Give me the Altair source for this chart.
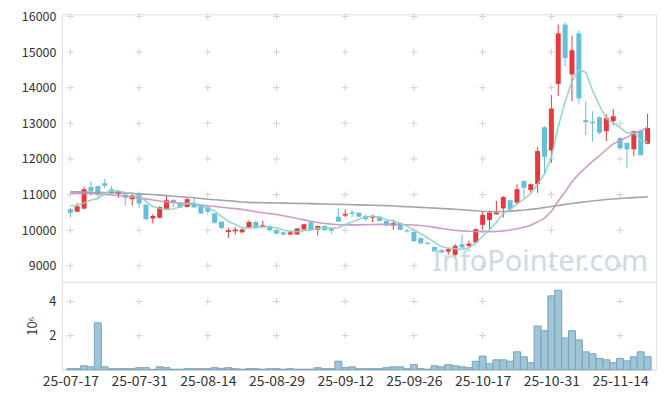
import json
import altair as alt
import pandas as pd

# ---------------- data ----------------
dates = [
    "25-07-17", "25-07-18", "25-07-21", "25-07-22", "25-07-23", "25-07-24", "25-07-25", "25-07-28", "25-07-29", "25-07-30",
    "25-07-31", "25-08-01", "25-08-04", "25-08-05", "25-08-06", "25-08-07", "25-08-08", "25-08-11", "25-08-12", "25-08-13",
    "25-08-14", "25-08-18", "25-08-19", "25-08-20", "25-08-21", "25-08-22", "25-08-25", "25-08-26", "25-08-27", "25-08-28",
    "25-08-29", "25-09-01", "25-09-02", "25-09-03", "25-09-04", "25-09-05", "25-09-08", "25-09-09", "25-09-10", "25-09-11",
    "25-09-12", "25-09-15", "25-09-16", "25-09-17", "25-09-18", "25-09-19", "25-09-22", "25-09-23", "25-09-24", "25-09-25",
    "25-09-26", "25-09-29", "25-09-30", "25-10-01", "25-10-02", "25-10-10", "25-10-13", "25-10-14", "25-10-15", "25-10-16",
    "25-10-17", "25-10-20", "25-10-21", "25-10-22", "25-10-23", "25-10-24", "25-10-27", "25-10-28", "25-10-29", "25-10-30",
    "25-10-31", "25-11-03", "25-11-04", "25-11-05", "25-11-06", "25-11-07", "25-11-10", "25-11-11", "25-11-12", "25-11-13",
    "25-11-14", "25-11-17", "25-11-18", "25-11-19", "25-11-20",
]
opens = [
    10590, 10520, 10605, 11210, 11240, 11320, 11150, 11010, 11000, 10870,
    11000, 10720, 10330, 10350, 10580, 10850, 10750, 10650, 10770, 10700,
    10650, 10470, 10240, 9950, 9970, 9940, 10070, 10230, 10090, 10110,
    10000, 9940, 9880, 9880, 10020, 10220, 10020, 10120, 10060, 10380,
    10410, 10500, 10490, 10400, 10350, 10380, 10260, 10130, 10200, 10000,
    9945, 9780, 9650, 9530, 9450, 9400, 9310, 9607, 9560, 9655,
    10150, 10290, 10445, 10615, 10840, 10775, 11380, 11130, 11290, 12890,
    12240, 14105, 15770, 14370, 15525, 13090, 13040, 13170, 12780, 13060,
    12590, 12450, 12270, 12800, 12425,
]
highs = [
    10630, 10770, 11210, 11380, 11250, 11440, 11240, 11120, 11010, 11010,
    11050, 10730, 10450, 10680, 10990, 10870, 10770, 10910, 10900, 10720,
    10680, 10480, 10250, 10070, 10090, 10070, 10280, 10280, 10260, 10150,
    10010, 9960, 9990, 10060, 10180, 10230, 10130, 10130, 10070, 10610,
    10590, 10580, 10500, 10450, 10440, 10390, 10270, 10300, 10210, 10030,
    9950, 9790, 9660, 9540, 9460, 9495, 9610, 9880, 9700, 10050,
    10540, 10560, 10820, 10960, 10850, 11290, 11400, 11310, 12330, 12920,
    13790, 15770, 15830, 15460, 15600, 13620, 13340, 13200, 13250, 13400,
    12600, 12460, 12790, 12810, 13265,
]
lows = [
    10350, 10500, 10600, 10960, 10870, 11180, 11000, 10910, 10690, 10690,
    10630, 10280, 10190, 10330, 10560, 10650, 10620, 10640, 10620, 10450,
    10440, 10180, 10030, 9780, 9870, 9930, 10060, 10060, 10080, 9970,
    9890, 9840, 9860, 9870, 10010, 9990, 9850, 9990, 9905, 10230,
    10370, 10370, 10370, 10260, 10220, 10250, 10120, 10010, 10000, 9930,
    9680, 9620, 9600, 9380, 9360, 9310, 9190, 9500, 9520, 9640,
    10030, 10030, 10440, 10350, 10500, 10710, 10910, 11050, 11050, 11570,
    11890, 13760, 14600, 13620, 13555, 12670, 12480, 12690, 12500, 12940,
    12250, 11750, 12080, 12090, 12410,
]
closes = [
    10490, 10670, 11150, 11100, 11010, 11250, 11030, 11100, 10910, 10970,
    10750, 10310, 10400, 10650, 10840, 10770, 10640, 10870, 10640, 10470,
    10520, 10210, 10060, 10000, 10020, 10020, 10230, 10080, 10140, 10000,
    9905, 9880, 9940, 10050, 10167, 10000, 10120, 10000, 9990, 10240,
    10460, 10460, 10380, 10310, 10390, 10260, 10130, 10200, 10010, 9965,
    9690, 9630, 9610, 9400, 9375, 9465, 9560, 9515, 9625, 10030,
    10430, 10490, 10495, 10930, 10590, 11150, 11190, 11290, 12220, 12060,
    13415, 15525, 14830, 15050, 13700, 13030, 13000, 12735, 13150, 13200,
    12300, 12270, 12780, 12110, 12870,
]
volumes = [
    60000, 60000, 230000, 170000, 2750000, 170000, 60000, 60000, 60000, 60000,
    120000, 120000, 20000, 170000, 120000, 30000, 30000, 60000, 60000, 60000,
    60000, 120000, 80000, 120000, 60000, 30000, 60000, 60000, 30000, 60000,
    60000, 30000, 60000, 30000, 30000, 30000, 120000, 60000, 60000, 500000,
    120000, 170000, 60000, 60000, 60000, 60000, 120000, 170000, 170000, 60000,
    300000, 60000, 30000, 230000, 170000, 300000, 230000, 170000, 120000, 500000,
    800000, 350000, 580000, 580000, 500000, 1050000, 760000, 410000, 2560000, 2290000,
    4330000, 4660000, 1860000, 2290000, 1750000, 1050000, 930000, 660000, 580000, 410000,
    660000, 520000, 760000, 1050000, 760000,
]
ma5 = [
    10680, 10700, 10760, 10850, 10884, 11036, 11108, 11098, 11060, 11052,
    10952, 10808, 10668, 10616, 10590, 10594, 10660, 10754, 10752, 10678,
    10628, 10542, 10380, 10252, 10162, 10062, 10066, 10070, 10098, 10094,
    10071, 10001, 9973, 9955, 9988, 10007, 10055, 10067, 10055, 10070,
    10162, 10230, 10306, 10370, 10400, 10360, 10294, 10258, 10198, 10113,
    9999, 9899, 9781, 9659, 9541, 9496, 9482, 9463, 9508, 9639,
    9832, 10018, 10214, 10475, 10587, 10731, 10871, 11030, 11288, 11582,
    12035, 12902, 13610, 14176, 14504, 14427, 13922, 13503, 13123, 13023,
    12877, 12731, 12740, 12532, 12466,
]
ma20 = [
    11040, 11035, 11030, 11025, 11010, 11000, 10990, 10975, 10960, 10935,
    10910, 10880, 10850, 10820, 10800, 10780, 10760, 10740, 10725, 10705,
    10685, 10665, 10645, 10625, 10605, 10585, 10555, 10520, 10490, 10465,
    10440, 10405, 10370, 10330, 10290, 10250, 10215, 10190, 10170, 10155,
    10150, 10150, 10150, 10155, 10160, 10165, 10165, 10165, 10160, 10155,
    10145, 10130, 10110, 10080, 10050, 10020, 9995, 9980, 9970, 9965,
    9960, 9960, 9965, 9980, 10005, 10040, 10085, 10140, 10235, 10340,
    10525, 10820, 11080, 11360, 11580, 11760, 11930, 12090, 12265, 12425,
    12520, 12605, 12720, 12780, 12890,
]
ma60 = [
    11080, 11075, 11070, 11065, 11060, 11055, 11050, 11045, 11040, 11030,
    11020, 11010, 11000, 10985, 10970, 10955, 10940, 10925, 10910, 10890,
    10870, 10855, 10840, 10825, 10810, 10790, 10780, 10775, 10770, 10768,
    10765, 10760, 10757, 10753, 10750, 10745, 10740, 10735, 10730, 10725,
    10720, 10715, 10710, 10705, 10700, 10695, 10690, 10680, 10670, 10660,
    10650, 10640, 10630, 10620, 10610, 10600, 10590, 10575, 10560, 10545,
    10530, 10520, 10520, 10525, 10535, 10550, 10565, 10585, 10605, 10635,
    10665, 10695, 10725, 10750, 10775, 10800, 10820, 10840, 10860, 10875,
    10890, 10905, 10915, 10925, 10935,
]
price_ticks = [9000, 10000, 11000, 12000, 13000, 14000, 15000, 16000]
vol_ticks = [2000000, 4000000]
watermark = "InfoPointer.com"

# ---------------- styles ----------------
RED = "#e8383b"
BLUE = "#64bfd9"
TEAL = "#8dd3c3"
PINK = "#c98fc4"
GRAY = "#9a9a9a"
FONT = "Noto Sans CJK KR"
W = 595

n = len(dates)
tick_idx = list(range(0, n, 10))
df = pd.DataFrame({
    "idx": list(range(n)), "date": dates, "open": opens, "high": highs,
    "low": lows, "close": closes, "volume": volumes,
    "ma5": ma5, "ma20": ma20, "ma60": ma60,
})
df["dir"] = ["up" if c >= o else "down" for o, c in zip(opens, closes)]

xscale = alt.Scale(domain=[-0.5, n - 0.5], nice=False, zero=False)
x_plain = alt.X("idx:Q", scale=xscale, axis=None)
pscale = alt.Scale(domain=[8550, 16060], nice=False, zero=False)
paxis = alt.Axis(values=price_ticks, title=None, grid=False, ticks=False,
                 labelPadding=6, labelFontSize=12.5, minExtent=48, format="d")


def yP(field):
    return alt.Y(field, scale=pscale, axis=paxis)


color = alt.Color("dir:N", scale=alt.Scale(domain=["up", "down"], range=[RED, BLUE]), legend=None)
cross = "M-1,0L1,0M0,-1L0,1"

pgrid = pd.DataFrame([(i, p) for i in tick_idx for p in price_ticks], columns=["idx", "p"])
grid_p = alt.Chart(pgrid).mark_point(shape=cross, size=49, filled=False, color="#d2d2d2",
                                     strokeWidth=1, opacity=1).encode(x=x_plain, y=yP("p:Q"))
wicks = alt.Chart(df).mark_rule(strokeWidth=1).encode(x=x_plain, y=yP("low:Q"), y2="high:Q", color=color)
bodies = alt.Chart(df).mark_bar(size=5).encode(x=x_plain, y=yP("open:Q"), y2="close:Q", color=color)
l60 = alt.Chart(df).mark_line(color=GRAY, strokeWidth=1.6, opacity=0.9).encode(x=x_plain, y=yP("ma60:Q"))
l20 = alt.Chart(df).mark_line(color=PINK, strokeWidth=1.6, opacity=0.9).encode(x=x_plain, y=yP("ma20:Q"))
l5 = alt.Chart(df).mark_line(color=TEAL, strokeWidth=1.6, opacity=0.9).encode(x=x_plain, y=yP("ma5:Q"))
wm = alt.Chart(pd.DataFrame({"t": [watermark]})).mark_text(
    align="right", baseline="alphabetic", font="Noto Sans", fontSize=29,
    color="#c2d5e2", opacity=0.85,
).encode(text="t:N", x=alt.value(587), y=alt.value(257))

price = alt.layer(grid_p, wicks, bodies, l60, l20, l5, wm).properties(width=W, height=268)

vgrid = pd.DataFrame([(i, v) for i in tick_idx for v in vol_ticks], columns=["idx", "v"])
vscale = alt.Scale(domain=[0, 5150000], nice=False, zero=True)
vaxis = alt.Axis(values=vol_ticks, labelExpr="datum.value / 1000000", title="10⁶",
                 grid=False, ticks=False, labelPadding=6, labelFontSize=13,
                 titleFontSize=13, titleFontWeight="normal", titlePadding=9)
xaxis = alt.Axis(values=tick_idx, labelExpr=json.dumps(dates) + "[datum.value]", title=None,
                 grid=False, ticks=False, labelPadding=5, labelFontSize=14, labelFlush=False)
x_vol = alt.X("idx:Q", scale=xscale, axis=xaxis)

grid_v = alt.Chart(vgrid).mark_point(shape=cross, size=49, filled=False, color="#d2d2d2",
                                     strokeWidth=1, opacity=1).encode(
    x=x_vol, y=alt.Y("v:Q", scale=vscale, axis=vaxis))
vbars = alt.Chart(df).mark_bar(size=7, fill="#a0c5d6", stroke="#74a3bd", strokeWidth=1).encode(
    x=x_vol, y=alt.Y("volume:Q", scale=vscale, axis=vaxis))
volume = alt.layer(grid_v, vbars).properties(width=W, height=88)

chart = alt.vconcat(price, volume, spacing=0, bounds="flush").properties(
    padding={"left": 5, "top": 1, "right": 0, "bottom": 0}
).configure_view(
    stroke="#e2e2e2"
).configure_axis(
    domainColor="#e2e2e2", labelColor="#333333", titleColor="#333333",
    labelFont=FONT, titleFont=FONT,
)

chart.save("out.html", embed_options={"renderer": "svg", "actions": False})
